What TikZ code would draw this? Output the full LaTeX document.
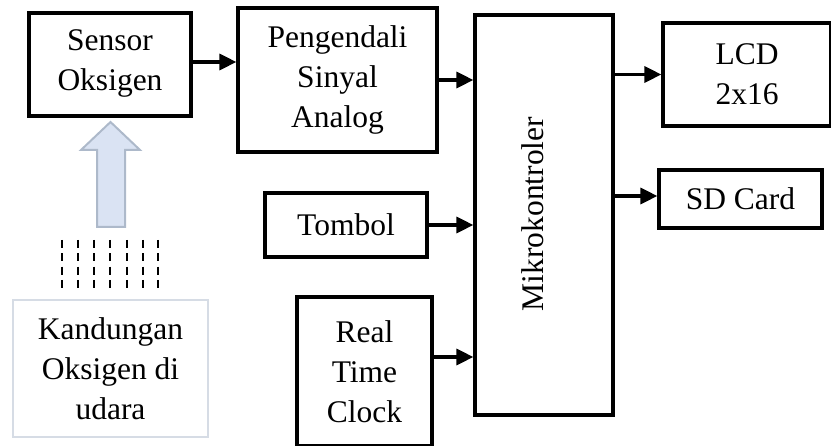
\documentclass[tikz,border=0pt]{standalone}
\usepackage{fontspec}
\setmainfont{Liberation Serif}
\usepackage{xcolor}
\usetikzlibrary{arrows.meta, positioning, calc}
\definecolor{airfill}{HTML}{DAE3F3}
\definecolor{airedge}{HTML}{ADB9CA}
\definecolor{srcedge}{HTML}{D6DCE5}
\tikzset{
  block/.style={draw=black, line width=3.2pt, align=center, inner sep=0pt,
    font=\fontsize{31.5}{40}\selectfont},
  srcbox/.style={block, draw=srcedge, line width=2pt},
  link/.style={line width=3.2pt, -{Triangle[length=17pt, width=16pt]}},
}

\begin{document}
\begin{tikzpicture}[x=1pt, y=-1pt]
  \useasboundingbox (0,0) rectangle (831,446);
  % blocks, pixel coords with y pointing down
  \node[block, minimum width=162pt, minimum height=103pt, text depth=8pt] (sensor) at (110,64.5) {Sensor\\Oksigen};
  \node[block, minimum width=199pt, minimum height=144pt] (sinyal) at (337.5,80) {Pengendali\\Sinyal\\Analog};
  \node[block, minimum width=162pt, minimum height=64pt] (tombol) at (346,225) {Tombol};
  \node[block, minimum width=135pt, minimum height=149pt] (rtc) at (364.5,371.5) {Real\\Time\\Clock};
  \node[block, minimum width=138pt, minimum height=400pt] (mikro) at (544,215) {};
  \node[font=\fontsize{31.5}{40}\selectfont, rotate=90, inner sep=0pt] (mikrolabel) at (533,214) {Mikrokontroler};
  \node[block, minimum width=168pt, minimum height=103pt] (lcd) at (747,74.5) {LCD\\2x16};
  \node[block, minimum width=163pt, minimum height=58pt] (sdcard) at (740.5,199) {SD Card};
  \node[srcbox, minimum width=195pt, minimum height=137pt] (udara) at (110.5,368.5) {Kandungan\\Oksigen di\\udara};
  % signal links
  \draw[link] ([yshift=2.5pt]sensor.east) -- ([yshift=2.5pt]sensor.east -| sinyal.west);
  \draw[link] (sinyal.east) -- (sinyal.east -| mikro.west);
  \draw[link] (tombol.east) -- (tombol.east -| mikro.west);
  \draw[link] ([yshift=14.5pt]rtc.east) -- ([yshift=14.5pt]rtc.east -| mikro.west);
  \draw[link] (mikro.east |- lcd.west) -- (lcd.west);
  \draw[link] ([yshift=3pt]mikro.east |- sdcard.west) -- ([yshift=3pt]sdcard.west);
  % air flow: dashed streaks and block arrow
  \foreach \xs in {62,78,94,110,127,143,158}
    \draw[line width=2pt, dash pattern=on 8pt off 5.3pt] (\xs,240) -- (\xs,288);
  \filldraw[fill=airfill, draw=airedge, line width=2pt]
    (97,227) -- (97,150) -- (81,150) -- (110.5,122) -- (140,150) -- (125,150) -- (125,227) -- cycle;
\end{tikzpicture}
\end{document}
